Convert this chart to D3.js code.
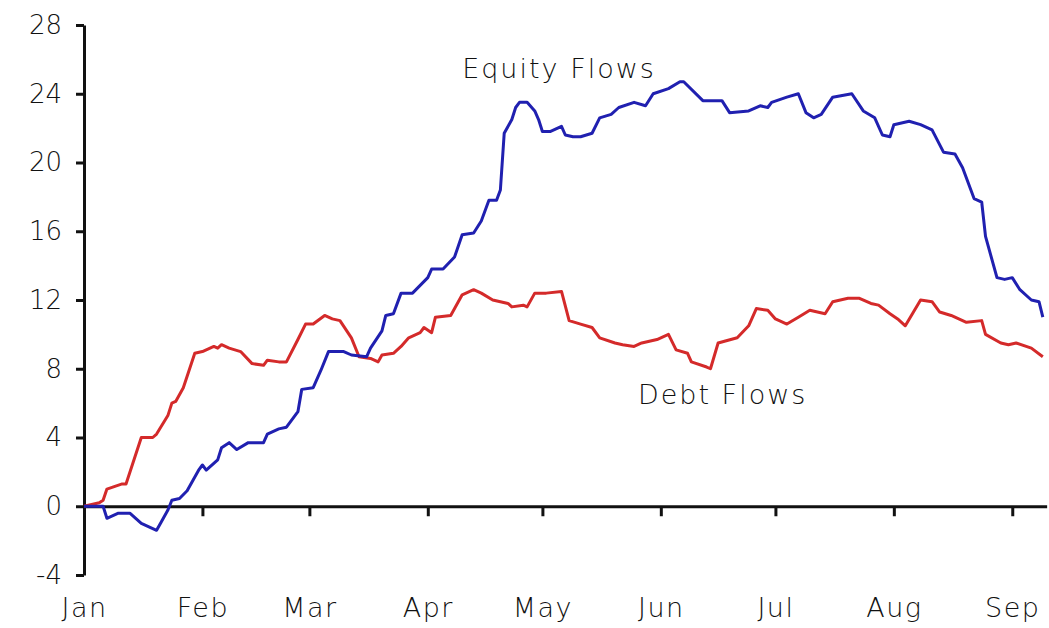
<!DOCTYPE html>
<html>
<head>
<meta charset="utf-8">
<script src="https://cdn.jsdelivr.net/npm/d3@7"></script>
<style>
  body { margin: 0; background: #fff; }
  text { font-family: "DejaVu Sans", sans-serif; font-weight: 200; fill: #111; }
</style>
</head>
<body>
<div class="container"></div>
<script>
// days since Jan 1 and cumulative flow values
var debtDay = [0,4,5,6,10,11,15,18,19,22,23,24,26,29,31,34,35,36,38,41,44,47,48,51,53,56,58,60,63,65,67,70,72,75,77,78,81,83,85,88,89,91,92,96,99,102,104,107,111,112,115,116,118,121,125,127,130,133,135,139,141,144,146,150,153,155,158,159,163,164,166,171,174,176,179,181,184,187,190,194,196,200,203,206,208,211,213,215,219,222,224,227,231,235,236,240,242,244,248,251];
var debtFlow = [0,0.2,0.35,1.0,1.3,1.3,4.0,4.0,4.2,5.3,6.0,6.1,6.9,8.9,9.0,9.3,9.2,9.4,9.2,9.0,8.3,8.2,8.5,8.4,8.4,9.7,10.6,10.6,11.1,10.9,10.8,9.8,8.7,8.6,8.4,8.8,8.9,9.3,9.8,10.1,10.4,10.1,11.0,11.1,12.3,12.6,12.4,12.0,11.8,11.6,11.7,11.6,12.4,12.4,12.5,10.8,10.6,10.4,9.8,9.5,9.4,9.3,9.5,9.7,10.0,9.1,8.9,8.4,8.1,8.0,9.5,9.8,10.5,11.5,11.4,10.9,10.6,11.0,11.4,11.2,11.9,12.1,12.1,11.8,11.7,11.2,10.9,10.5,12.0,11.9,11.3,11.1,10.7,10.8,10.0,9.5,9.4,9.5,9.2,8.7];

var equityDay = [0,5,6,9,12,15,17,19,20,22,23,25,27,30,31,32,35,36,38,40,43,47,48,51,53,56,57,60,62,64,68,70,74,75,78,79,81,83,86,90,91,94,97,99,102,104,106,108,109,110,112,113,114,116,118,119,120,122,125,126,128,130,133,135,138,140,144,147,149,153,156,157,162,167,169,174,177,179,180,184,187,189,191,193,196,201,204,207,209,211,212,216,219,222,225,228,230,233,235,236,239,241,243,245,248,250,251];
var equityFlow = [0,0,-0.7,-0.4,-0.4,-1.0,-1.2,-1.4,-1.0,-0.2,0.35,0.45,0.9,2.1,2.4,2.1,2.7,3.4,3.7,3.3,3.7,3.7,4.2,4.5,4.6,5.5,6.8,6.9,7.9,9.0,9.0,8.8,8.7,9.2,10.2,11.1,11.2,12.4,12.4,13.3,13.8,13.8,14.5,15.8,15.9,16.6,17.8,17.8,18.4,21.7,22.5,23.2,23.5,23.5,23.0,22.5,21.8,21.8,22.1,21.6,21.5,21.5,21.7,22.6,22.8,23.2,23.5,23.3,24.0,24.3,24.7,24.7,23.6,23.6,22.9,23.0,23.3,23.2,23.5,23.8,24.0,22.9,22.6,22.8,23.8,24.0,23.0,22.6,21.6,21.5,22.2,22.4,22.2,21.9,20.6,20.5,19.7,17.9,17.7,15.7,13.3,13.2,13.3,12.6,12.0,11.9,11.0];

var yTicks = [-4,0,4,8,12,16,20,24,28];
var monthLabels = ["Jan","Feb","Mar","Apr","May","Jun","Jul","Aug","Sep"];

var width = 1049, height = 628;
var start = new Date(2013, 0, 1);
var dayToDate = function(d){ return d3.timeDay.offset(start, d); };

var svg = d3.select('.container').append('svg')
	.attr('width', width)
	.attr('height', height);

var x = d3.scaleTime()
	.domain([start, dayToDate(252)])
	.range([84, 84 + 252 * 3.82]);

var y = d3.scaleLinear()
	.domain([-4, 28])
	.range([575, 25]);

// y axis
var yAxis = d3.axisLeft(y)
	.tickValues(yTicks)
	.tickSize(8)
	.tickPadding(14)
	.tickSizeOuter(0)
	.tickFormat(function(d){ return String(d); });

var gy = svg.append('g')
	.attr('transform', 'translate(' + x(start) + ',0)')
	.call(yAxis);
gy.select('.domain').attr('stroke', '#111').attr('stroke-width', 3);
gy.selectAll('.tick line').attr('stroke', '#111').attr('stroke-width', 3);
gy.selectAll('.tick text').style('font-size', '26px').attr('fill', '#111');

// x axis along zero, month names at the bottom
var months = d3.timeMonth.range(start, dayToDate(252));
var xAxis = d3.axisBottom(x)
	.tickValues(months)
	.tickSize(10)
	.tickPadding(82)
	.tickSizeOuter(0)
	.tickFormat(function(d, i){ return monthLabels[i]; });

var gx = svg.append('g')
	.attr('transform', 'translate(0,' + y(0) + ')')
	.call(xAxis);
gx.select('.domain').attr('stroke', '#111').attr('stroke-width', 3);
gx.selectAll('.tick line').attr('stroke', '#111').attr('stroke-width', 3);
gx.selectAll('.tick text')
	.style('font-size', '27px')
	.style('letter-spacing', '1.5px')
	.attr('fill', '#111');

var line = d3.line()
	.x(function(d){ return x(dayToDate(d[0])); })
	.y(function(d){ return y(d[1]); });

var debt = d3.zip(debtDay, debtFlow);
var equity = d3.zip(equityDay, equityFlow);

svg.append('path')
	.datum(debt)
	.attr('d', line)
	.attr('fill', 'none')
	.attr('stroke', '#d42a2a')
	.attr('stroke-width', 3)
	.attr('stroke-linejoin', 'round');

svg.append('path')
	.datum(equity)
	.attr('d', line)
	.attr('fill', 'none')
	.attr('stroke', '#2020b0')
	.attr('stroke-width', 3)
	.attr('stroke-linejoin', 'round');

// series labels
svg.append('text')
	.attr('x', x(dayToDate(99)))
	.attr('y', 78)
	.style('font-size', '27px')
	.style('letter-spacing', '2px')
	.text('Equity Flows');

svg.append('text')
	.attr('x', x(dayToDate(145)))
	.attr('y', 404)
	.style('font-size', '27px')
	.style('letter-spacing', '2px')
	.text('Debt Flows');
</script>
</body>
</html>
